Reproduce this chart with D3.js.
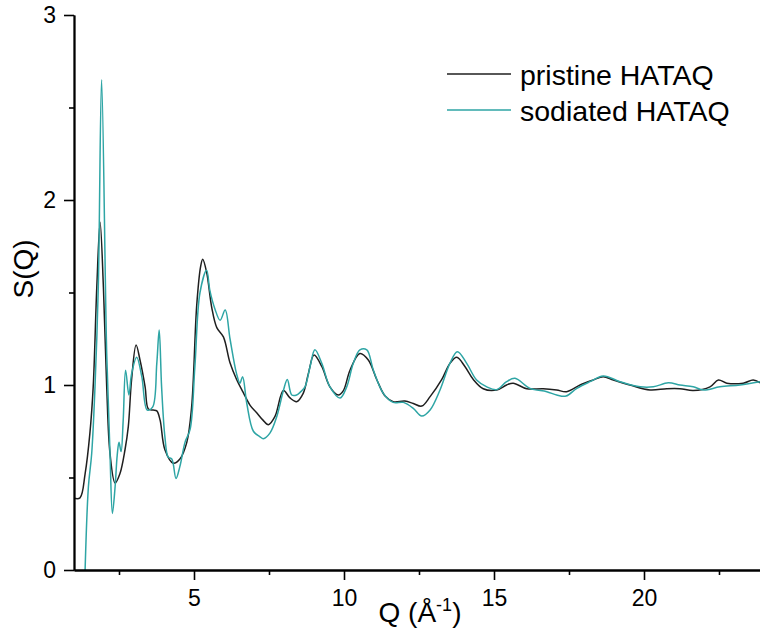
<!DOCTYPE html>
<html><head><meta charset="utf-8">
<script src="https://cdn.jsdelivr.net/npm/d3@7"></script>
<style>
body{margin:0;background:#fff;}
svg{display:block;font-family:"Liberation Sans",Arial,sans-serif;}
</style></head>
<body>
<svg id="chart" width="760" height="635"></svg>
<script>
// ---- data ----
const seriesNames = ["pristine HATAQ", "sodiated HATAQ"];
const seriesColors = ["#1f1f1f", "#2ea5a5"];
const xMajorTicks = [5, 10, 15, 20];
const xMinorTicks = [2.5, 7.5, 12.5, 17.5, 22.5];
const yMajorTicks = [0, 1, 2, 3];
const yMinorTicks = [0.5, 1.5, 2.5];

const qPristine = [1.0,1.2,1.37,1.53,1.64,1.76,1.87,1.98,2.09,2.2,2.37,2.53,2.7,2.81,2.92,3.07,3.2,3.37,3.48,3.64,3.76,3.87,4.03,4.31,4.53,4.76,4.92,5.09,5.22,5.29,5.42,5.59,5.76,5.98,6.2,6.42,6.64,6.87,7.09,7.3,7.48,7.7,7.98,8.2,8.42,8.64,8.81,9.0,9.26,9.53,9.81,9.98,10.2,10.53,10.81,11.09,11.37,11.64,12.03,12.31,12.59,12.87,13.26,13.53,13.76,14.03,14.31,14.64,15.09,15.42,15.64,16.09,16.64,17.09,17.42,17.87,18.31,18.64,18.98,19.53,20.2,20.76,21.2,21.64,22.2,22.48,22.76,23.31,23.64,23.9];
const sPristine = [0.388,0.39,0.52,0.74,0.99,1.53,1.88,1.53,0.99,0.63,0.47,0.52,0.65,0.775,1.03,1.216,1.135,0.99,0.87,0.865,0.86,0.81,0.65,0.577,0.60,0.69,0.88,1.43,1.64,1.68,1.61,1.42,1.31,1.26,1.12,1.03,0.96,0.89,0.85,0.81,0.785,0.83,0.97,0.93,0.91,0.955,1.06,1.162,1.10,0.99,0.946,0.97,1.08,1.17,1.135,1.03,0.94,0.91,0.913,0.90,0.886,0.937,1.03,1.117,1.15,1.10,1.03,0.98,0.973,1.0,1.01,0.98,0.98,0.973,0.964,1.0,1.027,1.045,1.027,1.0,0.973,0.98,0.98,0.97,0.99,1.027,1.01,1.01,1.027,1.01];

const qSodiated = [1.37,1.48,1.59,1.7,1.81,1.92,2.09,2.2,2.28,2.37,2.44,2.5,2.57,2.64,2.72,2.83,2.92,3.09,3.26,3.44,3.62,3.76,3.84,3.92,4.03,4.14,4.26,4.4,4.53,4.7,4.87,5.03,5.2,5.42,5.53,5.7,5.87,6.04,6.2,6.42,6.53,6.62,6.76,6.98,7.2,7.31,7.53,7.76,7.98,8.11,8.26,8.42,8.56,8.7,8.87,9.03,9.26,9.53,9.87,10.09,10.31,10.53,10.76,10.98,11.31,11.64,11.98,12.31,12.59,12.87,13.2,13.53,13.78,14.09,14.42,14.76,15.09,15.42,15.7,16.2,16.76,17.09,17.4,17.76,18.2,18.64,19.2,19.87,20.31,20.81,21.2,21.64,21.98,22.53,23.2,23.9];
const sSodiated = [0.0,0.45,0.63,0.99,1.53,2.65,1.17,0.63,0.306,0.45,0.62,0.69,0.64,0.81,1.08,0.946,1.06,1.15,1.045,0.865,0.88,1.117,1.297,0.99,0.72,0.61,0.60,0.495,0.56,0.69,0.76,1.1,1.5,1.62,1.51,1.41,1.35,1.405,1.25,1.06,1.01,1.045,0.9,0.75,0.72,0.71,0.74,0.83,0.97,1.03,0.946,0.946,0.964,0.99,1.10,1.19,1.117,0.99,0.93,0.99,1.117,1.19,1.19,1.08,0.955,0.906,0.906,0.874,0.832,0.865,0.973,1.117,1.18,1.117,1.027,0.99,0.975,1.018,1.036,0.982,0.964,0.946,0.94,0.982,1.018,1.049,1.018,0.99,0.99,1.012,1.0,0.99,0.973,0.99,1.0,1.018];

// ---- layout ----
const svg = d3.select("#chart");
const x = d3.scaleLinear().domain([1, 24]).range([74, 764]);
const y = d3.scaleLinear().domain([0, 3]).range([570, 15]);

svg.append("defs").append("clipPath").attr("id","clip")
  .append("rect").attr("x",74).attr("y",0).attr("width",690).attr("height",570);

const line = d3.line().x(d=>x(d[0])).y(d=>y(d[1])).curve(d3.curveCatmullRom.alpha(0.5));
const series = [
  d3.zip(qPristine, sPristine),
  d3.zip(qSodiated, sSodiated)
];
const g = svg.append("g").attr("clip-path","url(#clip)");
[0,1].forEach(i=>{
  g.append("path").datum(series[i]).attr("d", line)
    .attr("fill","none").attr("stroke", seriesColors[i]).attr("stroke-width",1.5)
    .attr("stroke-linejoin","round");
});

// axes
const axFont = "23px";
const xMinor = svg.append("g").attr("transform","translate(0,570)")
  .call(d3.axisBottom(x).tickValues(xMinorTicks).tickSize(5).tickSizeOuter(0).tickFormat(""));
const xMajor = svg.append("g").attr("transform","translate(0,570)")
  .call(d3.axisBottom(x).tickValues(xMajorTicks).tickSize(10).tickSizeOuter(0).tickPadding(10));
const yMinor = svg.append("g").attr("transform","translate(74,0)")
  .call(d3.axisLeft(y).tickValues(yMinorTicks).tickSize(5).tickSizeOuter(0).tickFormat(""));
const yMajor = svg.append("g").attr("transform","translate(74,0)")
  .call(d3.axisLeft(y).tickValues(yMajorTicks).tickSize(10).tickSizeOuter(0).tickPadding(8).tickFormat(d3.format("d")));
[xMinor,xMajor,yMinor,yMajor].forEach(a=>{
  a.selectAll("path").attr("stroke","#000").attr("stroke-width",1.8);
  a.selectAll("line").attr("stroke","#000").attr("stroke-width",1.6);
  a.selectAll("text").attr("fill","#000").style("font-size",axFont)
    .style("font-family",'"Liberation Sans",Arial,sans-serif');
});

// axis titles
svg.append("text").attr("transform","translate(33,269) rotate(-90)")
  .attr("text-anchor","middle").style("font-size","28px").attr("fill","#000").text("S(Q)");
const xt = svg.append("text").attr("x",420).attr("y",622).attr("text-anchor","middle")
  .style("font-size","28px").attr("fill","#000");
xt.append("tspan").text("Q (Å");
xt.append("tspan").attr("dy",-11).style("font-size","18px").text("-1");
xt.append("tspan").attr("dy",11).text(")");

// legend
const leg = svg.append("g");
seriesNames.forEach((name,i)=>{
  const yy = 74 + i*36;
  leg.append("line").attr("x1",447).attr("x2",511).attr("y1",yy).attr("y2",yy)
    .attr("stroke",seriesColors[i]).attr("stroke-width",1.5);
  leg.append("text").attr("x",520).attr("y",yy+11).style("font-size","28.5px")
    .attr("fill","#000").text(name);
});
</script>
</body></html>
